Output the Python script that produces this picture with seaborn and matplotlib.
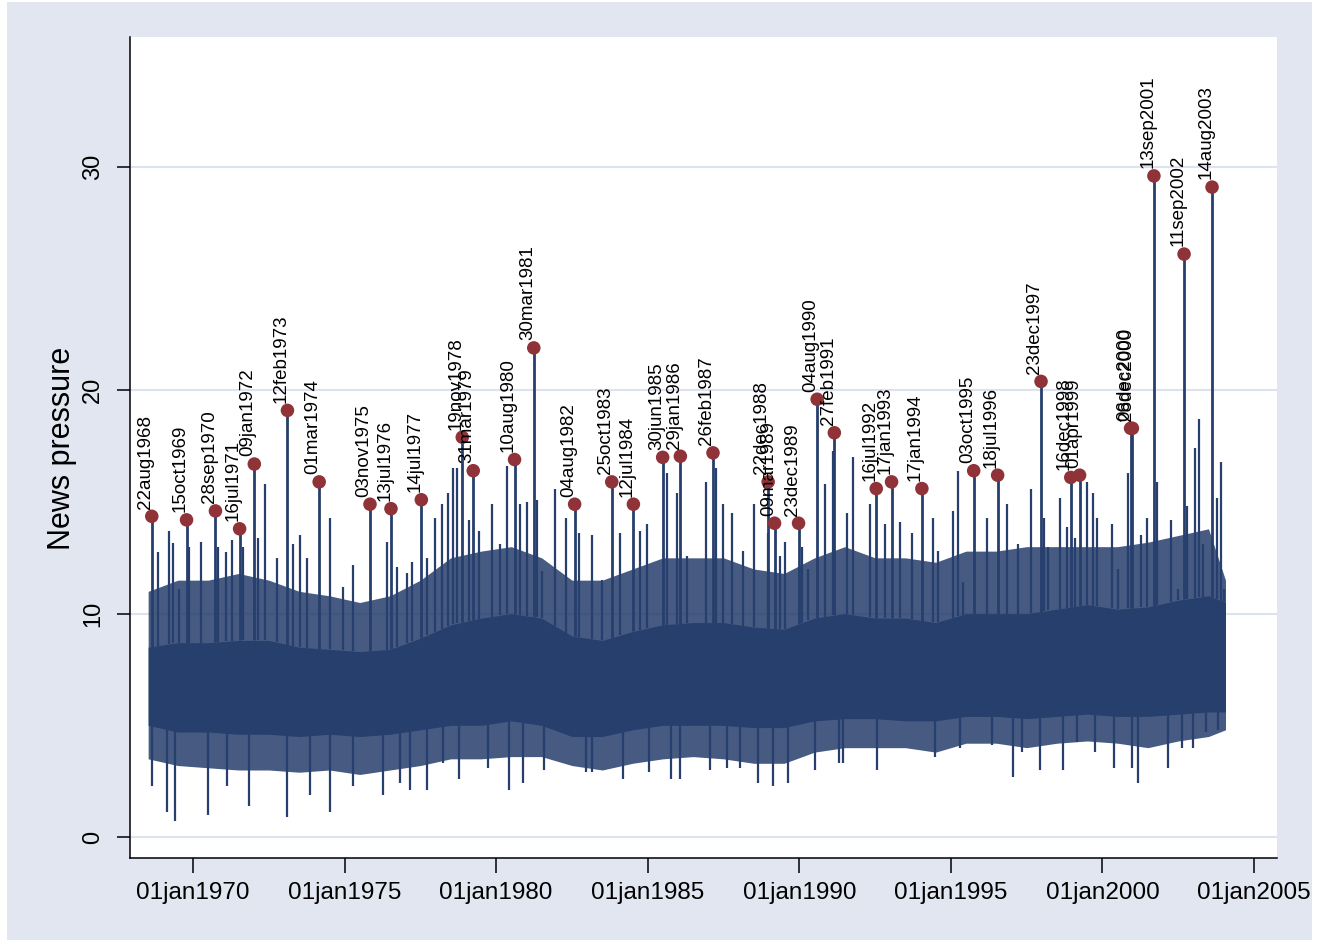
import numpy as np
import pandas as pd
import matplotlib
matplotlib.use("Agg")
import matplotlib.pyplot as plt
import seaborn as sns
from matplotlib.patches import Rectangle

# ---------------- data ----------------
peak_labels = ["22aug1968", "15oct1969", "28sep1970", "16jul1971", "09jan1972",
               "12feb1973", "01mar1974", "03nov1975", "13jul1976", "14jul1977",
               "19nov1978", "31mar1979", "10aug1980", "30mar1981", "04aug1982",
               "25oct1983", "12jul1984", "30jun1985", "29jan1986", "26feb1987",
               "22dec1988", "09mar1989", "23dec1989", "04aug1990", "27feb1991",
               "16jul1992", "17jan1993", "17jan1994", "03oct1995", "18jul1996",
               "23dec1997", "16dec1998", "01apr1999", "06dec2000", "28dec2000",
               "13sep2001", "11sep2002", "14aug2003"]
peak_values = [14.36, 14.2, 14.6, 13.8, 16.7,
               19.1, 15.9, 14.9, 14.7, 15.1,
               17.9, 16.4, 16.9, 21.9, 14.9,
               15.9, 14.9, 17.0, 17.05, 17.2,
               15.9, 14.05, 14.05, 19.6, 18.1,
               15.6, 15.9, 15.6, 16.4, 16.2,
               20.4, 16.1, 16.2, 18.3, 18.3,
               29.6, 26.1, 29.1]

# secondary upward spikes (decimal year, value)
spike_up_year = [1968.85, 1969.21, 1969.34, 1969.54, 1969.87, 1970.26, 1970.82, 1971.09,
                 1971.29, 1971.65, 1972.14, 1972.38, 1972.77, 1973.30, 1973.53, 1973.76,
                 1974.52, 1974.95, 1975.28, 1976.40, 1976.73, 1977.06, 1977.23, 1977.72,
                 1977.98, 1978.22, 1978.41, 1978.58, 1978.71, 1979.11, 1979.44, 1979.86,
                 1980.13, 1980.36, 1980.79, 1981.02, 1981.35, 1981.51, 1981.94, 1982.31,
                 1982.74, 1983.16, 1983.49, 1984.09, 1984.75, 1984.98, 1985.64, 1985.97,
                 1986.30, 1986.93, 1987.26, 1987.49, 1987.78, 1988.15, 1988.51, 1988.97,
                 1989.37, 1989.53, 1990.09, 1990.29, 1990.85, 1991.12, 1991.58, 1991.78,
                 1992.34, 1992.83, 1993.33, 1993.72, 1994.41, 1994.58, 1995.07, 1995.24,
                 1995.40, 1996.20, 1996.86, 1997.22, 1997.65, 1998.08, 1998.21, 1998.60,
                 1998.84, 1999.10, 1999.50, 1999.69, 1999.83, 2000.32, 2000.52, 2000.85,
                 2001.28, 2001.47, 2001.80, 2002.27, 2002.50, 2002.79, 2003.06, 2003.19,
                 2003.32, 2003.78, 2003.92, 2004.02]
spike_up_value = [12.75, 13.7, 13.15, 11.1, 13.0, 13.2, 13.0, 12.75,
                  13.3, 13.0, 13.4, 15.8, 12.5, 13.1, 13.5, 12.5,
                  14.3, 11.2, 12.2, 13.2, 12.1, 11.8, 12.3, 12.5,
                  14.3, 14.9, 15.4, 16.5, 16.5, 14.2, 13.7, 14.9,
                  13.1, 16.6, 14.9, 15.0, 15.1, 11.9, 15.6, 14.3,
                  13.6, 13.5, 11.5, 13.6, 13.7, 14.0, 16.3, 15.4,
                  12.6, 15.9, 16.5, 14.9, 14.5, 12.8, 14.9, 13.6,
                  12.6, 13.2, 13.0, 12.0, 15.8, 17.3, 14.5, 17.0,
                  14.9, 14.0, 14.1, 13.6, 14.3, 12.8, 14.6, 16.4,
                  11.4, 14.3, 14.9, 13.1, 15.6, 14.3, 13.0, 15.2,
                  13.9, 13.4, 15.9, 15.4, 14.3, 14.0, 12.0, 16.3,
                  13.5, 14.3, 15.9, 14.2, 11.1, 14.8, 17.4, 18.7,
                  13.1, 15.2, 16.8, 11.1]

# secondary downward spikes (decimal year, value)
spike_down_year = [1968.65, 1969.14, 1969.41, 1970.49, 1971.12, 1971.85, 1973.10, 1973.86,
                   1974.52, 1975.28, 1976.27, 1976.83, 1977.16, 1977.72, 1978.25, 1978.78,
                   1979.73, 1980.43, 1980.89, 1981.58, 1982.97, 1983.16, 1984.19, 1985.04,
                   1985.77, 1986.07, 1987.06, 1987.62, 1988.05, 1988.64, 1989.14, 1989.63,
                   1990.52, 1991.31, 1991.45, 1992.57, 1994.48, 1995.31, 1996.36, 1997.05,
                   1997.35, 1997.94, 1998.70, 1999.17, 1999.76, 2000.39, 2000.98, 2001.18,
                   2002.17, 2002.63, 2002.99, 2003.42, 2003.82]
spike_down_value = [2.3, 1.1, 0.7, 1.0, 2.3, 1.4, 0.9, 1.9,
                    1.1, 2.3, 1.9, 2.4, 2.1, 2.1, 3.3, 2.6,
                    3.1, 2.1, 2.4, 3.0, 2.9, 2.9, 2.6, 2.9,
                    2.6, 2.6, 3.0, 3.1, 3.1, 2.4, 2.3, 2.4,
                    3.0, 3.3, 3.3, 3.0, 3.6, 4.0, 4.1, 2.7,
                    3.8, 3.0, 3.0, 4.25, 3.8, 3.1, 3.1, 2.4,
                    3.1, 4.0, 4.0, 4.7, 4.8]

# envelope of the dense daily band (decimal year)
band_year = [1968.52, 1969.5, 1970.5, 1971.5, 1972.5, 1973.5, 1974.5, 1975.5, 1976.5,
             1977.5, 1978.5, 1979.5, 1980.5, 1981.5, 1982.5, 1983.5, 1984.5, 1985.5,
             1986.5, 1987.5, 1988.5, 1989.5, 1990.5, 1991.5, 1992.5, 1993.5, 1994.5,
             1995.5, 1996.5, 1997.5, 1998.5, 1999.5, 2000.5, 2001.5, 2002.5, 2003.5,
             2004.06]
core_lo = [5.0, 4.7, 4.7, 4.6, 4.6, 4.5, 4.6, 4.5, 4.6, 4.8, 5.0, 5.0, 5.2, 5.0, 4.5,
           4.5, 4.8, 5.0, 5.0, 5.0, 4.9, 4.9, 5.2, 5.3, 5.3, 5.2, 5.2, 5.4, 5.4, 5.3,
           5.4, 5.5, 5.4, 5.4, 5.5, 5.6, 5.6]
core_hi = [8.5, 8.7, 8.7, 8.8, 8.8, 8.5, 8.4, 8.3, 8.4, 8.9, 9.5, 9.8, 10.0, 9.8, 9.0,
           8.8, 9.2, 9.5, 9.6, 9.6, 9.4, 9.3, 9.8, 10.0, 9.8, 9.8, 9.6, 10.0, 10.0, 10.0,
           10.2, 10.4, 10.2, 10.3, 10.6, 10.8, 10.5]
fuzz_lo = [3.5, 3.2, 3.1, 3.0, 3.0, 2.9, 3.0, 2.8, 3.0, 3.2, 3.5, 3.5, 3.6, 3.6, 3.2,
           3.0, 3.3, 3.5, 3.6, 3.5, 3.3, 3.3, 3.8, 4.0, 4.0, 4.0, 3.8, 4.2, 4.2, 4.0,
           4.2, 4.3, 4.2, 4.0, 4.3, 4.5, 4.8]
fuzz_hi = [11.0, 11.5, 11.5, 11.8, 11.5, 11.0, 10.8, 10.5, 10.8, 11.5, 12.5, 12.8, 13.0,
           12.5, 11.5, 11.5, 12.0, 12.5, 12.5, 12.5, 12.0, 11.8, 12.5, 13.0, 12.5, 12.5,
           12.3, 12.8, 12.8, 13.0, 13.0, 13.0, 13.0, 13.2, 13.5, 13.8, 11.5]

xtick_years = [1970, 1975, 1980, 1985, 1990, 1995, 2000, 2005]
xtick_labels = ["01jan1970", "01jan1975", "01jan1980", "01jan1985",
                "01jan1990", "01jan1995", "01jan2000", "01jan2005"]
ytick_values = [0, 10, 20, 30]
ylabel_text = "News pressure"

# ---------------- styling ----------------
NAVY = "#273F6D"
MAROON = "#8F3339"
BG = "#E1E6F0"
GRID = "#DCE2EE"

sns.set_theme(style="white")
plt.rcParams['font.family'] = ['Liberation Sans', 'DejaVu Sans']
plt.rcParams['text.color'] = 'black'
plt.rcParams['xtick.color'] = 'black'
plt.rcParams['ytick.color'] = 'black'

W, H = 1323, 949
fig = plt.figure(figsize=(W / 100, H / 100), dpi=100)
fig.patch.set_facecolor("white")
fig.patches.append(Rectangle((7 / W, 1 - 940 / H), (1312 - 7) / W, (940 - 2) / H,
                             transform=fig.transFigure, facecolor=BG,
                             edgecolor="none", zorder=-10))
ax = fig.add_axes([130 / W, 1 - 858 / H, (1277 - 130) / W, (858 - 37) / H])
ax.set_facecolor("white")


def dec_year(s):
    d = pd.to_datetime(s, format="%d%b%Y")
    start = pd.Timestamp(d.year, 1, 1)
    end = pd.Timestamp(d.year + 1, 1, 1)
    return d.year + (d - start) / (end - start)


peaks = pd.DataFrame({"label": peak_labels, "value": peak_values})
peaks["year"] = [dec_year(s) for s in peaks["label"]]

by = np.array(band_year)
# band: fuzzy outer part and solid core
ax.fill_between(by, fuzz_lo, fuzz_hi, color=NAVY, alpha=0.86, lw=0, zorder=2)
ax.fill_between(by, core_lo, core_hi, color=NAVY, lw=0, zorder=3)

lw_line = 1.6
up_base = np.interp(spike_up_year, by, core_hi)
ax.vlines(spike_up_year, up_base, spike_up_value, color=NAVY, lw=lw_line, zorder=3)
dn_base = np.interp(spike_down_year, by, core_lo)
ax.vlines(spike_down_year, spike_down_value, dn_base, color=NAVY, lw=lw_line, zorder=3)
pk_base = np.interp(peaks["year"], by, core_hi)
ax.vlines(peaks["year"], pk_base, peaks["value"], color=NAVY, lw=lw_line + 0.4, zorder=3)

sns.scatterplot(data=peaks, x="year", y="value", ax=ax, color=MAROON, s=95,
                edgecolor="none", zorder=5, legend=False)
for _, r in peaks.iterrows():
    ax.annotate(r["label"], (r["year"], r["value"]), xytext=(-4.5, 5.5),
                textcoords="offset points", rotation=90, ha="center", va="bottom",
                fontsize=13.5, color="black", zorder=6)

# axes
ax.set_xlim(1967.921, 2005.759)
ax.set_ylim(-0.94, 35.82)
ax.set_xticks(xtick_years)
ax.set_xticklabels(xtick_labels)
ax.set_yticks(ytick_values)
ax.set_yticklabels([str(v) for v in ytick_values], rotation=90, va="center")
ax.set_xlabel("")
ax.set_ylabel("")
ax.yaxis.grid(True, color=GRID, lw=1.5)
ax.xaxis.grid(False)
ax.set_axisbelow(True)
for side in ["top", "right"]:
    ax.spines[side].set_visible(False)
for side in ["left", "bottom"]:
    ax.spines[side].set_color("black")
    ax.spines[side].set_linewidth(1.1)
ax.tick_params(axis="y", direction="out", length=9.5, width=1.1, color="black",
               labelcolor="black", labelsize=17, pad=9, left=True)
ax.tick_params(axis="x", direction="out", length=11, width=1.1, color="black",
               labelcolor="black", labelsize=17.5, pad=6, bottom=True)
fig.text(62 / W, 1 - 448 / H, ylabel_text, rotation=90, ha="center", va="center",
         fontsize=22, color="black")

fig.savefig("out.png", dpi=100)
